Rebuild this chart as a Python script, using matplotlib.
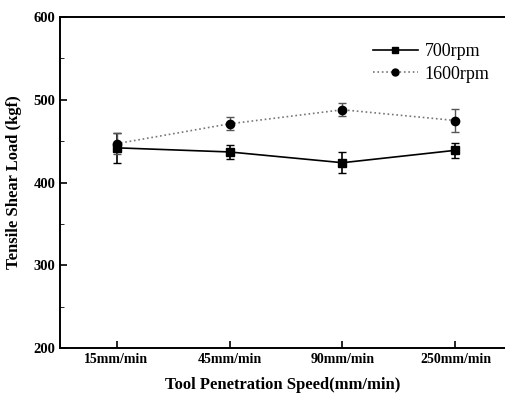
import matplotlib
matplotlib.use("Agg")
import matplotlib.pyplot as plt
from matplotlib.ticker import MultipleLocator
from matplotlib.lines import Line2D

plt.rcParams["font.family"] = ["Liberation Serif", "DejaVu Serif"]

speeds = ["15mm/min", "45mm/min", "90mm/min", "250mm/min"]
load_700 = [442, 437, 424, 439]
err_700 = [18, 8, 13, 9]
load_1600 = [447, 471, 488, 475]
err_1600 = [13, 8, 8, 14]

fig = plt.figure(figsize=(5.06, 3.98), dpi=100)
ax = fig.add_axes([0.1186, 0.1256, 0.8814, 0.8314])

x = list(range(len(speeds)))
ax.errorbar(x, load_700, yerr=err_700, color="black", marker="s", markersize=6,
            linewidth=1.2, capsize=3, elinewidth=1.2)
ax.errorbar(x, load_1600, yerr=err_1600, color="#777777", marker="o", markersize=6,
            markerfacecolor="black", markeredgecolor="black", linestyle=":",
            linewidth=1.2, capsize=3, elinewidth=1.0, ecolor="#555555")

ax.set_xlim(-0.5, 3.447)
ax.set_ylim(200, 600)
ax.set_xticks(x)
ax.set_xticklabels(speeds, fontsize=10, fontweight="bold")
ax.yaxis.set_major_locator(MultipleLocator(100))
ax.yaxis.set_minor_locator(MultipleLocator(50))
ax.tick_params(axis="both", which="both", direction="in")
ax.tick_params(axis="both", which="major", length=5, width=1.2)
ax.tick_params(axis="y", which="minor", length=3)
for lab in ax.get_yticklabels():
    lab.set_fontweight("bold")
    lab.set_fontsize(10.5)
ax.spines["right"].set_visible(False)
for s in ["left", "bottom", "top"]:
    ax.spines[s].set_linewidth(1.4)

ax.set_xlabel("Tool Penetration Speed(mm/min)", fontsize=12, fontweight="bold", labelpad=8)
ax.set_ylabel("Tensile Shear Load (kgf)", fontsize=12, fontweight="bold", labelpad=8)

handles = [
    Line2D([], [], color="black", marker="s", markersize=5, linewidth=1.2, linestyle="-"),
    Line2D([], [], color="#777777", marker="o", markersize=5, markerfacecolor="black",
           markeredgecolor="black", linewidth=1.2, linestyle=":"),
]
ax.legend(handles, ["700rpm", "1600rpm"], loc="upper right", frameon=False,
          fontsize=13, handlelength=2.5, handletextpad=0.4, labelspacing=0.3,
          bbox_to_anchor=(1.0, 0.97))

fig.savefig("out.png", dpi=100)
